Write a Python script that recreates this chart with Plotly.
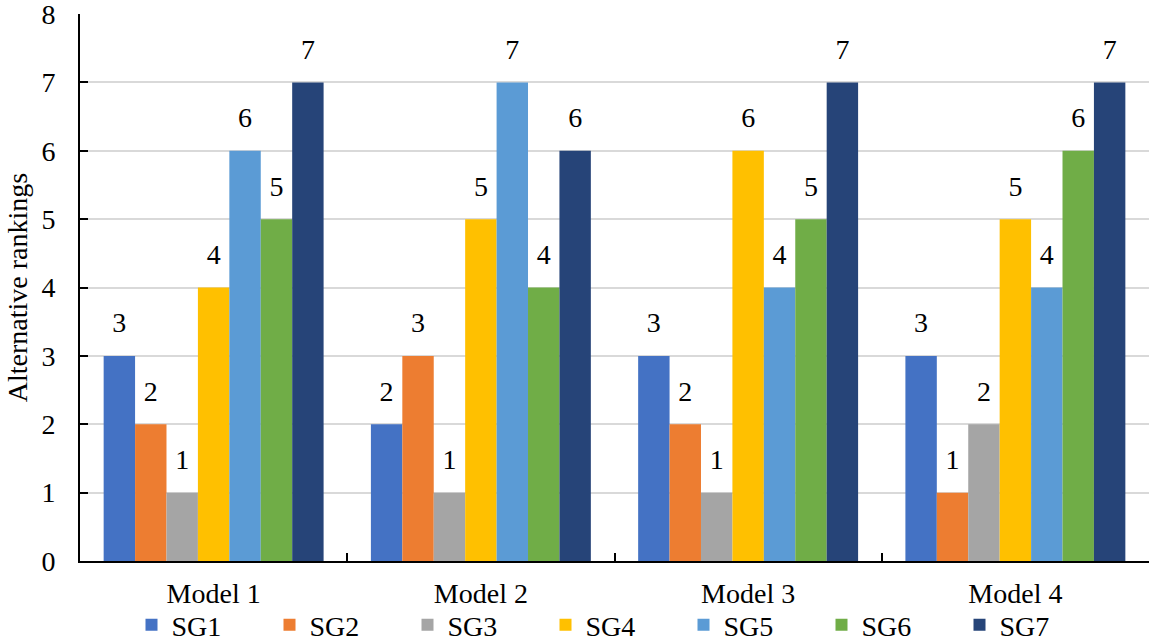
import plotly.graph_objects as go

models = ["Model 1", "Model 2", "Model 3", "Model 4"]
series_names = ["SG1", "SG2", "SG3", "SG4", "SG5", "SG6", "SG7"]
sg1 = [3, 2, 3, 3]
sg2 = [2, 3, 2, 1]
sg3 = [1, 1, 1, 2]
sg4 = [4, 5, 6, 5]
sg5 = [6, 7, 4, 4]
sg6 = [5, 4, 5, 6]
sg7 = [7, 6, 7, 7]
series_values = [sg1, sg2, sg3, sg4, sg5, sg6, sg7]
colors = ["#4472C4", "#ED7D31", "#A5A5A5", "#FFC000", "#5B9BD5", "#70AD47", "#264478"]
y_ticks = [0, 1, 2, 3, 4, 5, 6, 7, 8]

FONT = "Liberation Serif"
GAP = 0.177

fig = go.Figure()
for name, vals, col in zip(series_names, series_values, colors):
    fig.add_trace(go.Bar(
        x=models, y=vals, name=name, offsetgroup=name,
        marker=dict(color=col, line=dict(width=0)),
        hoverinfo="skip",
    ))
for name, vals in zip(series_names, series_values):
    fig.add_trace(go.Scatter(
        x=models, y=vals, offsetgroup=name, mode="markers+text",
        text=[str(v) for v in vals], textposition="top center",
        textfont=dict(family=FONT, size=28, color="black"),
        marker=dict(size=25, opacity=0),
        showlegend=False, hoverinfo="skip", cliponaxis=False,
    ))

fig.update_layout(
    width=1151, height=641,
    margin=dict(l=80, r=2, t=14, b=80, autoexpand=False),
    paper_bgcolor="white", plot_bgcolor="white",
    barmode="group", bargap=GAP, bargroupgap=0,
    scattermode="group", scattergap=GAP,
    font=dict(family=FONT, size=28, color="black"),
    showlegend=True,
    legend=dict(orientation="h", x=0.5, xanchor="center", y=-89 / 547, yanchor="bottom",
                bgcolor="rgba(0,0,0,0)", borderwidth=0,
                font=dict(family=FONT, size=28, color="black"),
                entrywidth=93, entrywidthmode="pixels",
                itemsizing="constant", tracegroupgap=0),
    xaxis=dict(
        automargin=False,
        showline=True, linecolor="black", linewidth=2,
        ticks="inside", ticklen=8, tickwidth=2, tickcolor="black",
        tickson="boundaries", showgrid=False,
        tickfont=dict(family=FONT, size=28, color="black"),
        ticklabelstandoff=6,
    ),
    yaxis=dict(
        automargin=False,
        range=[0, 8.0001], tickvals=y_ticks, ticktext=[str(v) for v in y_ticks],
        showline=True, linecolor="black", linewidth=2,
        ticks="inside", ticklen=8, tickwidth=2, tickcolor="black",
        showgrid=True, gridcolor="#D9D9D9", gridwidth=1.5,
        zeroline=False, ticklabeloverflow="allow",
        tickfont=dict(family=FONT, size=28, color="black"),
        ticklabelstandoff=17,
        title=dict(text="Alternative rankings", font=dict(family=FONT, size=28, color="black"), standoff=6),
    ),
)

fig.write_html("out.html", config={"displayModeBar": False},
               post_script="document.body.style.margin='0';document.body.style.overflow='hidden';")
